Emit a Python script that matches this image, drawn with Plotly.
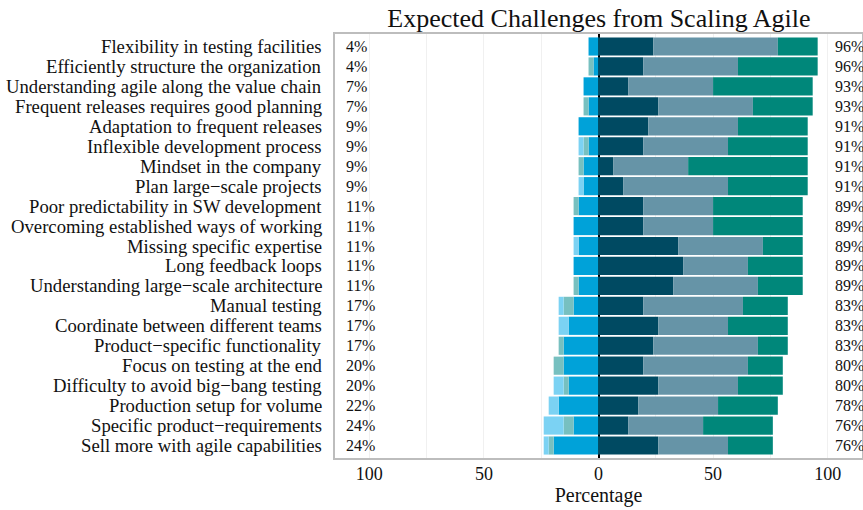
import plotly.graph_objects as go

N = 46
categories = [
    "Flexibility in testing facilities",
    "Efficiently structure the organization",
    "Understanding agile along the value chain",
    "Frequent releases requires good planning",
    "Adaptation to frequent releases",
    "Inflexible development process",
    "Mindset in the company",
    "Plan large\u2212scale projects",
    "Poor predictability in SW development",
    "Overcoming established ways of working",
    "Missing specific expertise",
    "Long feedback loops",
    "Understanding large\u2212scale architecture",
    "Manual testing",
    "Coordinate between different teams",
    "Product\u2212specific functionality",
    "Focus on testing at the end",
    "Difficulty to avoid big\u2212bang testing",
    "Production setup for volume",
    "Specific product\u2212requirements",
    "Sell more with agile capabilities",
]

# counts of respondents (n = 46) per answer level
neg_outer = [0, 0, 0, 0, 0, 1, 0, 1, 0, 0, 1, 0, 0, 1, 2, 0, 0, 2, 2, 4, 1]
neg_mid   = [0, 1, 0, 1, 0, 1, 1, 0, 1, 0, 0, 0, 1, 2, 0, 1, 2, 1, 0, 2, 1]
neg_inner = [2, 1, 3, 2, 4, 2, 3, 3, 4, 5, 4, 5, 4, 5, 6, 7, 7, 6, 8, 5, 9]
pos_inner = [11, 9, 6, 12, 10, 9, 3, 5, 9, 9, 16, 17, 15, 9, 12, 11, 9, 12, 8, 6, 12]
pos_mid   = [25, 19, 17, 19, 18, 17, 15, 21, 14, 14, 17, 13, 17, 20, 14, 21, 21, 16, 16, 15, 14]
pos_outer = [8, 16, 20, 12, 14, 16, 24, 16, 18, 18, 8, 11, 9, 9, 12, 6, 7, 9, 12, 14, 9]

left_labels = ["4%", "4%", "7%", "7%", "9%", "9%", "9%", "9%", "11%", "11%", "11%",
               "11%", "11%", "17%", "17%", "17%", "20%", "20%", "22%", "24%", "24%"]
right_labels = ["96%", "96%", "93%", "93%", "91%", "91%", "91%", "91%", "89%", "89%", "89%",
                "89%", "89%", "83%", "83%", "83%", "80%", "80%", "78%", "76%", "76%"]

x_ticks = [-100, -50, 0, 50, 100]
x_tick_text = ["100", "50", "0", "50", "100"]


def pct(vals, sign=1):
    return [sign * v * 100.0 / N for v in vals]


series = [
    ("neg_inner", pct(neg_inner, -1), "#00A2D9"),
    ("neg_mid", pct(neg_mid, -1), "#77C0C0"),
    ("neg_outer", pct(neg_outer, -1), "#7BD2F3"),
    ("pos_inner", pct(pos_inner), "#004A62"),
    ("pos_mid", pct(pos_mid), "#6694A7"),
    ("pos_outer", pct(pos_outer), "#00877A"),
]

fig = go.Figure()
for name, vals, color in series:
    fig.add_trace(go.Bar(
        y=categories, x=vals, orientation="h", name=name,
        marker=dict(color=color, line=dict(width=0)),
        showlegend=False, hoverinfo="x+y",
    ))

serif = "Liberation Serif, Times New Roman, serif"

for cat, ll, rl in zip(categories, left_labels, right_labels):
    fig.add_annotation(x=0, y=cat, xref="paper", yref="y", text=cat, showarrow=False,
                       xanchor="right", xshift=-11,
                       font=dict(family=serif, size=18.7, color="#111"))
    fig.add_annotation(x=-111, y=cat, xref="x", yref="y", text=ll, showarrow=False,
                       xanchor="left", font=dict(family=serif, size=16, color="#111"))
    fig.add_annotation(x=102.5, y=cat, xref="x", yref="y", text=rl, showarrow=False,
                       xanchor="left", font=dict(family=serif, size=16, color="#111"))

fig.update_layout(
    width=863, height=510,
    barmode="relative", bargap=0.09,
    paper_bgcolor="white", plot_bgcolor="white",
    margin=dict(l=335, r=1, t=34, b=52),
    title=dict(text="Expected Challenges from Scaling Agile", x=0.694, xanchor="center",
               y=0.965, yanchor="middle", font=dict(family=serif, size=26, color="#111")),
    font=dict(family=serif, color="#111"),
)
fig.update_xaxes(
    range=[-115, 115], tickvals=x_ticks, ticktext=x_tick_text, automargin=False,
    tickfont=dict(family=serif, size=18, color="#111"),
    title=dict(text="Percentage", font=dict(family=serif, size=20, color="#111"), standoff=5),
    showgrid=True, gridcolor="#f0f0f0", gridwidth=1,
    minor=dict(dtick=25, tick0=0, showgrid=True, gridcolor="#f0f0f0"),
    zeroline=True, zerolinecolor="#000", zerolinewidth=1.5,
    showline=True, linecolor="#bdbdbd", linewidth=2, mirror=True,
    ticks="", ticklabelstandoff=-2,
)
fig.update_yaxes(
    categoryorder="array", categoryarray=categories, autorange="reversed", automargin=False,
    showticklabels=False,
    showgrid=False, showline=True, linecolor="#bdbdbd", linewidth=2, mirror=True,
    ticks="",
)

fig.write_html(
    "out.html",
    config={"displayModeBar": False},
    post_script="document.body.style.margin='0';document.body.style.padding='0';",
)
